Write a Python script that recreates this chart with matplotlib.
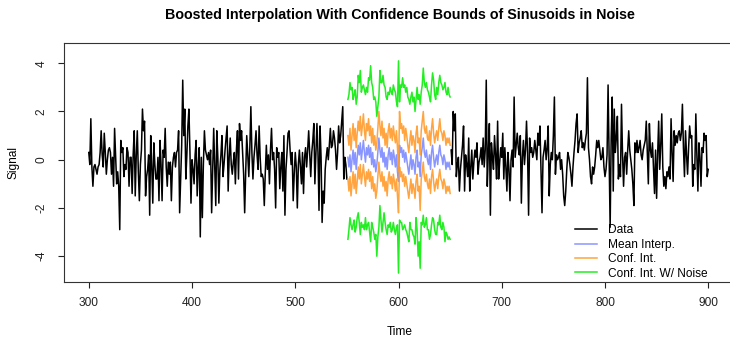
import numpy as np
import matplotlib
matplotlib.use('Agg')
import matplotlib.pyplot as plt

plt.rcParams['font.family'] = ['Liberation Sans', 'DejaVu Sans']
plt.rcParams['axes.unicode_minus'] = False

# observed data, t = 300..550
data_left = [
    0.3, -0.2, 1.7, -0.3, -1.1, -0.3, -0.2, -0.4, -0.6, -0.3,
    -0.2, 0.3, 1.2, 0.2, -0.3, 1.1, 0.3, -0.6, 0.0, 0.4,
    0.5, 0.3, -0.6, 0.1, -1.1, 1.3, 0.2, -1.0, -0.5, -1.1,
    -2.9, 0.8, 0.3, 0.5, -0.7, -0.2, -0.4, 0.5, 0.3, -1.1,
    0.1, 0.1, -1.4, 0.2, 1.2, -1.5, 0.2, 1.2, -0.5, -1.7,
    -0.2, 0.4, 2.1, 1.2, 1.6, -1.5, -0.7, -0.4, 0.2, -2.3,
    1.0, -0.3, -1.8, 0.7, -0.2, -0.8, -0.8, 0.1, -1.7, 0.8,
    -0.2, -1.7, 0.4, 0.1, 1.3, -0.3, -1.1, -0.1, -0.6, -0.1,
    -1.7, -0.3, 0.1, 0.3, -0.3, 0.3, 0.4, 1.2, -2.2, -0.8,
    0.6, 3.3, 1.0, 2.1, -0.8, 0.2, 1.4, 2.1, 0.3, -1.8,
    0.0, -0.4, -1.0, 0.2, 0.8, -1.5, -0.3, 0.5, -3.2, 0.1,
    -2.4, -0.2, 1.2, 0.4, 0.2, 0.0, 0.3, -0.2, 0.4, -2.2,
    -0.4, 1.3, -0.3, -1.9, 1.2, 0.1, -1.8, -0.4, 0.2, 1.0,
    -0.7, -0.2, 0.4, 0.9, 1.4, -1.3, 0.1, 0.9, -0.2, -0.6,
    -0.1, 0.3, -1.0, 0.4, 1.2, -0.8, 1.5, 0.8, 1.2, 0.3,
    -0.6, -2.2, -0.5, 1.0, 0.2, -0.7, 0.5, 2.2, 0.3, -0.8,
    0.1, 0.6, 1.2, 0.2, -0.4, 1.4, 0.1, -0.7, -0.6, -0.8,
    -1.9, -0.5, 0.6, -0.4, 0.2, -1.0, 0.4, 1.3, 0.0, 0.3,
    -0.4, -2.0, 0.5, 0.1, 0.3, -1.2, -0.3, 0.3, -1.3, 1.0,
    -2.3, -0.4, 0.3, 1.1, 1.2, 0.4, -0.2, 0.3, -1.7, -0.6,
    0.3, -0.3, -2.0, -0.2, 0.4, -0.3, -1.0, 0.3, -1.4, 0.1,
    0.5, -0.3, 0.4, 1.2, 0.2, -0.7, 0.3, 0.8, 1.5, -1.0,
    0.2, 1.5, 0.3, -2.1, 1.4, 0.1, -2.6, -1.3, -1.8, -0.4,
    0.1, 0.5, 0.0, 0.6, 1.3, 0.5, 0.6, 1.2, 0.9, 0.4,
    -0.4, 0.3, 1.4, 0.7, 1.0, 1.6, 2.2, -0.8, 0.1, -0.2,
    -0.8,
]

# observed data, t = 651..900
data_right = [
    0.4, -0.2, 2.0, 1.2, 1.9, -0.7, -0.2, 0.1, -1.3, -0.4,
    0.1, 0.6, 1.4, -1.3, 0.2, -0.2, -0.7, 0.9, -1.3, -0.3,
    0.4, -0.8, -0.1, 0.4, 0.1, 0.7, -0.6, -0.1, 0.1, 0.5,
    -0.2, 0.9, -0.3, 0.4, 3.3, -1.1, 0.3, 1.5, -2.3, 0.7,
    0.1, -0.4, 1.0, 0.2, -0.8, 1.6, -0.8, -0.1, 0.5, 0.1,
    1.1, -0.8, 0.5, -0.3, -1.3, 0.3, -0.4, -1.7, 0.0, 0.4,
    -0.3, 2.6, 0.1, 0.6, 1.1, 0.5, 0.2, 1.0, -1.8, 0.1,
    0.8, -0.2, 0.4, 1.6, 0.3, -2.3, 0.9, 0.3, 0.5, 0.1,
    0.3, 0.8, 0.4, 0.0, 1.1, 0.6, 1.4, -0.5, -2.2, 0.1,
    0.4, 0.8, 0.0, 0.5, 1.4, -1.5, -0.2, 0.3, 0.0, 1.0,
    2.6, -0.6, 0.2, 0.0, 0.1, 0.3, -0.4, 0.0, -0.6, -1.5,
    -1.9, -1.3, -0.4, 0.3, 0.1, -0.2, -0.6, -1.1, -0.3, 0.3,
    0.8, 1.5, 1.9, 0.3, 0.7, 0.9, 1.2, 0.5, 0.7, 0.4,
    0.8, 1.1, 3.4, 0.5, 0.0, -0.7, -1.0, -0.3, -0.6, -0.3,
    0.2, 0.8, 0.5, 0.8, 0.4, 0.0, 0.1, 0.5, -0.3, -0.7,
    -0.4, 0.2, 3.1, 0.1, -2.8, 0.9, 2.6, -1.3, 2.1, 0.3,
    0.9, 1.8, -0.8, -0.2, -0.7, 2.3, 0.2, -1.1, 0.1, 0.3,
    -0.6, 0.4, 1.2, 0.4, 0.0, -0.4, -1.0, -1.9, 0.7, 0.3,
    0.8, 0.3, 0.5, 0.8, 0.2, 0.0, 0.4, 0.6, 0.8, 1.6,
    0.3, -1.0, 1.5, 0.4, 0.1, 0.7, -0.3, -1.4, 0.4, -1.6,
    0.2, 1.6, -0.4, 0.6, 1.9, -0.3, -1.1, -0.7, -1.2, -0.5,
    -0.7, -0.3, -0.8, 1.7, 0.3, -0.9, 1.2, 0.6, 1.0, 0.7,
    1.1, 1.2, 0.8, 1.1, 2.3, 0.5, -0.7, 1.2, 0.2, -0.6,
    0.5, 1.4, 0.9, 1.0, -1.1, -0.2, -0.4, 1.9, 0.2, -1.3,
    0.7, 0.1, -1.1, 0.5, 0.3, 1.1, 0.8, 1.0, -0.7, -0.4,
]

# interpolation, t = 551..650
mean_interp = [
    0.1, -0.3, 0.2, -0.5, 0.0, 0.4, -0.2, 0.3, -0.4, 0.1,
    0.6, 0.2, 0.7, 0.0, 0.4, 0.8, 0.3, -0.1, 0.5, 0.2,
    0.6, 0.1, 0.5, -0.2, 0.3, -0.3, 0.0, -0.5, -0.2, 0.3,
    0.9, 0.4, 0.1, 0.5, -0.1, 0.3, -0.3, 0.1, -0.4, 0.2,
    0.5, 0.0, 0.3, -0.2, 0.4, 0.1, -0.3, 0.2, -0.5, -0.9,
    0.6, 0.3, 0.5, 0.1, 0.4, -0.1, 0.3, 0.0, -0.3, -0.6,
    -0.2, 0.2, -0.4, 0.0, -0.2, -0.6, 0.1, 0.4, -0.3, -0.1,
    -0.7, 0.2, 0.5, 0.9, 0.3, 0.1, 0.4, 0.0, -0.2, 0.2,
    -0.4, 0.3, 0.6, 0.1, -0.3, 0.0, 0.2, -0.2, 0.3, 0.6,
    0.2, 0.1, -0.2, 0.2, 0.0, -0.4, -0.1, -0.3, -0.1, -0.4,
]
conf_hi = [
    1.0, 0.6, 1.3, 0.4, 1.0, 1.5, 0.8, 1.3, 0.5, 1.1,
    1.6, 1.2, 1.8, 1.0, 1.4, 1.9, 1.2, 0.8, 1.5, 1.2,
    1.7, 1.0, 1.4, 0.7, 1.3, 0.6, 1.0, 0.4, 0.7, 1.3,
    2.0, 1.4, 1.0, 1.6, 0.9, 1.3, 0.6, 1.1, 0.5, 1.2,
    1.5, 0.9, 1.3, 0.8, 1.4, 1.0, 0.7, 1.2, 0.5, -0.5,
    2.0, 1.3, 1.5, 1.1, 1.4, 0.8, 1.3, 1.0, 0.6, 0.3,
    0.8, 1.2, 0.6, 1.0, 0.8, 0.3, 1.1, 1.4, 0.7, 0.9,
    0.2, 1.2, 1.6, 2.0, 1.3, 1.1, 1.4, 0.9, 0.8, 1.2,
    0.6, 1.3, 1.7, 1.1, 0.7, 1.0, 1.2, 0.8, 1.3, 1.7,
    1.2, 1.1, 0.8, 1.2, 1.0, 0.6, 0.9, 0.7, 0.9, 0.6,
]
conf_lo = [
    -0.8, -1.3, -0.7, -1.5, -1.0, -0.5, -1.2, -0.6, -1.4, -0.9,
    -0.3, -0.8, -0.2, -1.0, -0.6, -0.2, -0.7, -1.1, -0.5, -0.8,
    -0.4, -0.9, -0.5, -1.2, -0.7, -1.3, -1.0, -1.6, -1.3, -0.7,
    -0.1, -0.6, -0.9, -0.5, -1.1, -0.7, -1.3, -0.9, -1.5, -0.8,
    -0.5, -1.0, -0.7, -1.2, -0.6, -0.9, -1.3, -0.8, -1.5, -2.2,
    -0.3, -0.7, -0.5, -0.9, -0.6, -1.1, -0.7, -1.0, -1.3, -1.6,
    -1.2, -0.8, -1.4, -1.0, -1.2, -1.6, -0.9, -0.6, -1.3, -1.1,
    -2.1, -0.8, -0.5, -0.1, -0.7, -0.9, -0.6, -1.0, -1.2, -0.8,
    -1.4, -0.7, -0.4, -0.9, -1.3, -1.0, -0.8, -1.2, -0.7, -0.4,
    -0.8, -0.9, -1.2, -0.8, -1.0, -1.4, -1.1, -1.3, -1.1, -1.4,
]
noise_hi = [
    2.5, 2.7, 3.2, 2.9, 3.0, 2.5, 2.7, 2.9, 2.3, 2.6,
    3.5, 3.2, 3.7, 2.8, 3.0, 3.1, 2.9, 2.7, 3.0, 2.8,
    3.4, 3.3, 3.9, 3.2, 3.0, 2.5, 2.6, 2.4, 1.8, 2.2,
    2.6, 3.7, 3.2, 3.2, 3.5, 3.1, 3.0, 2.6, 2.5, 2.8,
    2.7, 3.0, 2.8, 2.7, 3.1, 2.9, 2.8, 2.4, 2.2, 4.1,
    2.4, 3.1, 3.0, 3.4, 3.0, 3.1, 2.8, 3.0, 2.6, 2.5,
    2.3, 2.6, 2.8, 2.4, 2.6, 2.0, 2.5, 3.0, 2.5, 2.7,
    2.3, 2.8, 3.1, 3.8, 3.2, 3.0, 3.2, 2.9, 2.8, 2.6,
    2.4, 3.1, 3.6, 3.3, 2.7, 2.5, 3.0, 2.7, 3.2, 3.5,
    3.2, 3.1, 2.9, 3.0, 3.2, 2.8, 2.7, 3.0, 2.7, 2.6,
]
noise_lo = [
    -3.3, -2.9, -2.4, -2.7, -2.9, -2.7, -2.5, -3.0, -2.8, -2.4,
    -2.2, -2.6, -3.1, -2.6, -2.8, -2.7, -2.9, -2.4, -2.9, -2.7,
    -2.6, -3.0, -3.4, -2.6, -2.8, -3.0, -3.3, -3.1, -4.0, -3.2,
    -2.8, -1.9, -2.5, -3.0, -2.6, -2.2, -2.6, -2.9, -3.1, -2.7,
    -2.8, -2.6, -3.0, -2.9, -2.6, -2.9, -3.1, -2.8, -2.7, -4.7,
    -2.5, -2.6, -2.6, -2.9, -2.8, -2.7, -2.9, -3.0, -3.2, -3.4,
    -2.6, -2.9, -2.9, -3.1, -3.2, -3.5, -2.4, -2.9, -4.0, -3.4,
    -4.5, -2.6, -2.7, -2.3, -2.8, -2.7, -2.4, -2.9, -2.9, -3.3,
    -3.1, -2.7, -2.4, -2.5, -2.9, -3.1, -3.1, -2.6, -2.7, -2.3,
    -2.8, -2.9, -2.6, -2.8, -3.4, -3.0, -3.1, -3.3, -3.2, -3.3,
]

t_left = np.arange(300, 300 + len(data_left))
t_right = np.arange(651, 651 + len(data_right))
t_mid = np.arange(551, 551 + len(mean_interp))

fig = plt.figure(figsize=(7.30, 3.39), dpi=100)
ax = fig.add_axes([64 / 730, 57 / 339, 669 / 730, 239 / 339])

lw = 1.1
ax.plot(t_left, data_left, color='black', lw=lw, label='Data')
ax.plot(t_right, data_right, color='black', lw=lw)
ax.plot(t_mid, mean_interp, color='#8a96ff', lw=lw, label='Mean Interp.')
ax.plot(t_mid, conf_hi, color='#ff9a2a', lw=lw, alpha=0.9, label='Conf. Int.')
ax.plot(t_mid, conf_lo, color='#ff9a2a', lw=lw, alpha=0.9)
ax.plot(t_mid, noise_hi, color='#22ee22', lw=lw, label='Conf. Int. W/ Noise')
ax.plot(t_mid, noise_lo, color='#22ee22', lw=lw)

ax.set_xlim(276, 924)
ax.set_ylim(-5.07, 4.84)
ax.set_xticks([300, 400, 500, 600, 700, 800, 900])
ax.set_yticks([-4, -2, 0, 2, 4])
ax.tick_params(direction='out', length=4.3, width=0.8, labelsize=8.6, colors='#222222')
ax.tick_params(axis='x', pad=6.5)
ax.tick_params(axis='y', pad=7.3)
for lab in ax.get_yticklabels():
    lab.set_rotation(90)
    lab.set_va('center')
for s in ax.spines.values():
    s.set_linewidth(0.8)
    s.set_color('#333333')

fig.text(400 / 730, 1 - 15 / 339, 'Boosted Interpolation With Confidence Bounds of Sinusoids in Noise',
         ha='center', va='center', fontsize=10.3, fontweight='bold')
fig.text(400 / 730, 1 - 332 / 339, 'Time', ha='center', va='center', fontsize=8.6)
fig.text(14 / 730, 1 - 162 / 339, 'Signal', ha='center', va='center', fontsize=8.6, rotation=90)

ax.legend(loc='lower left', bbox_to_anchor=(0.764, 0.01), frameon=False,
          fontsize=8.6, handlelength=1.85, handletextpad=0.9, labelspacing=0.2,
          borderpad=0, borderaxespad=0)

fig.savefig('out.png', dpi=100)
